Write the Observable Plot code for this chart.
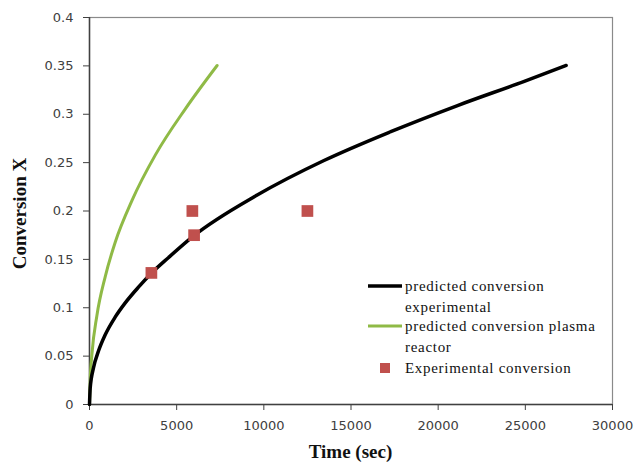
<!DOCTYPE html>
<html>
<head>
<meta charset="utf-8">
<script src="https://cdn.jsdelivr.net/npm/d3@7"></script>
<script src="https://cdn.jsdelivr.net/npm/@observablehq/plot@0.6"></script>
<style>
  html, body { margin: 0; padding: 0; background: #fff; }
  #wrap { position: relative; width: 635px; height: 463px; }
</style>
</head>
<body>
<div id="wrap"></div>
<script>
// Time (sec) and conversion X
const expPredT = [0, 40, 230, 520, 900, 1480, 2050, 2820, 3550, 4540, 5920, 9620, 13450, 17280, 21110, 24940, 27340];
const expPredX = [0, 0.017, 0.038, 0.0555, 0.072, 0.0905, 0.105, 0.1215, 0.1357, 0.152, 0.1735, 0.2165, 0.2522, 0.282, 0.309, 0.334, 0.3504];

const plasmaT = [0, 40, 140, 425, 900, 1480, 2440, 3780, 5500, 7320];
const plasmaX = [0, 0.025, 0.052, 0.092, 0.132, 0.168, 0.211, 0.258, 0.3056, 0.3504];

const obsT = [3550, 5900, 6000, 12500];
const obsX = [0.136, 0.2, 0.175, 0.2];

const xTicks = [0, 5000, 10000, 15000, 20000, 25000, 30000];
const yTicks = [0, 0.05, 0.1, 0.15, 0.2, 0.25, 0.3, 0.35, 0.4];

const legendLabels = [["predicted conversion", "experimental"], ["predicted conversion plasma", "reactor"], ["Experimental conversion"]];
const colors = ["#000000", "#8fba46", "#c0504d"];

const expPred = expPredT.map((t, i) => ({t, x: expPredX[i]}));
const plasma = plasmaT.map((t, i) => ({t, x: plasmaX[i]}));
const obs = obsT.map((t, i) => ({t, x: obsX[i]}));

const W = 635, H = 463;
const chart = Plot.plot({
  width: W,
  height: H,
  marginLeft: 89,
  marginRight: 23,
  marginTop: 17,
  marginBottom: 59,
  style: {fontFamily: "DejaVu Sans", fontSize: "13px", color: "#404040", background: "#fff"},
  x: {domain: [0, 30000], label: null},
  y: {domain: [0, 0.4], label: null},
  marks: [
    Plot.frame({stroke: "#8a8a8a", strokeWidth: 1.2}),
    Plot.axisX({ticks: xTicks, tickFormat: d => String(d), tickSize: 6, tickPadding: 10, label: null, stroke: "#404040", fill: "#404040"}),
    Plot.axisY({ticks: yTicks, tickFormat: d3.format("~g"), tickSize: 6, tickPadding: 10, label: null, stroke: "#404040", fill: "#404040"}),
    Plot.ruleY([0], {stroke: "#404040", strokeWidth: 1.5}),
    Plot.ruleX([0], {stroke: "#404040", strokeWidth: 1.5}),
    Plot.line(plasma, {x: "t", y: "x", stroke: colors[1], strokeWidth: 3, curve: "monotone-x"}),
    Plot.line(expPred, {x: "t", y: "x", stroke: colors[0], strokeWidth: 3.5, curve: "monotone-x"}),
    Plot.dot(obs, {x: "t", y: "x", symbol: "square", r: 6.6, fill: colors[2], stroke: "none"})
  ]
});

document.getElementById("wrap").appendChild(chart);

// axis titles
const svg = d3.select(chart);
const xs = chart.scale("x"), ys = chart.scale("y");
const cx = (xs.range[0] + xs.range[1]) / 2;
const cy = (ys.range[0] + ys.range[1]) / 2;
svg.append("text")
  .attr("x", cx).attr("y", 458)
  .attr("text-anchor", "middle")
  .attr("font-family", "Liberation Serif").attr("font-weight", "bold").attr("font-size", 19)
  .attr("fill", "#111")
  .text("Time (sec)");
svg.append("text")
  .attr("transform", `translate(26,${cy + 3}) rotate(-90)`)
  .attr("text-anchor", "middle")
  .attr("font-family", "Liberation Serif").attr("font-weight", "bold").attr("font-size", 19)
  .attr("fill", "#111")
  .text("Conversion X");

// legend
const lg = svg.append("g").attr("font-family", "Liberation Serif").attr("font-size", 15)
  .attr("text-anchor", "start").attr("fill", "#111").style("letter-spacing", "0.7px");
const legendRows = [
  {type: "line", width: 3.5, y: 286},
  {type: "line", width: 3, y: 326},
  {type: "square", y: 368}
];
legendRows.forEach((r, k) => {
  if (r.type === "line") {
    lg.append("line").attr("x1", 368).attr("x2", 402).attr("y1", r.y).attr("y2", r.y)
      .attr("stroke", colors[k]).attr("stroke-width", r.width);
  } else {
    lg.append("rect").attr("x", 380).attr("y", r.y - 5).attr("width", 10).attr("height", 10).attr("fill", colors[k]);
  }
  legendLabels[k].forEach((t, i) => {
    lg.append("text").attr("x", 405).attr("y", r.y + i * 20.5).attr("dy", "0.35em").text(t);
  });
});
</script>
</body>
</html>
